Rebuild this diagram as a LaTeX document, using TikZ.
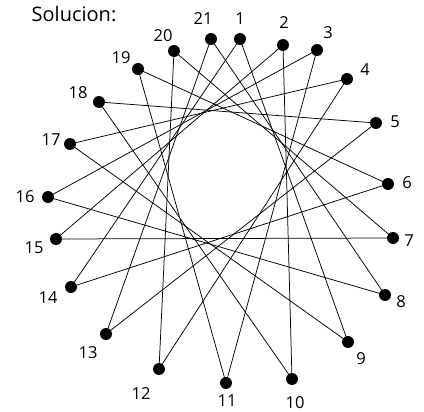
\documentclass[tikz,border=0pt]{standalone}
\usepackage{fontspec}
\setmainfont{Open Sans}
\begin{document}
\begin{tikzpicture}[x=1pt,y=-1pt,
  dot/.style={circle,fill=black,inner sep=0pt,minimum size=12pt},
  lbl/.style={inner sep=0pt,font=\fontsize{16.5}{16.5}\selectfont},
  edge/.style={line width=0.75pt}]
\useasboundingbox (0,0) rectangle (424,412);
\node[inner sep=0pt,font=\fontsize{20}{20}\selectfont] (title) at (74,14) {Solucion:};
\foreach \i/\x/\y/\lx/\ly in {
 1/240/39/240/19,
 2/283/45/284/23,
 3/317/50/328/33,
 4/347/79/365/70,
 5/376/123/395/122,
 6/388/184/407/183,
 7/393/238/409/241,
 8/385/295/401/302,
 9/348/342/361/359,
 10/292/379/295/403,
 11/226/383/227/400.5,
 12/159/369/141/394,
 13/106/334/88/353,
 14/71/287/48/298,
 15/56/239/34/248,
 16/48/197/25/197,
 17/70/144/51/140,
 18/99/102/78/93,
 19/138/69/121/58,
 20/174/51/163/36,
 21/211/39/203/19}{
  \node[dot] (p\i) at (\x,\y) {};
  \node[lbl] (l\i) at (\lx,\ly) {\i};
}
\foreach \i in {1,...,21}{
  \pgfmathtruncatemacro{\j}{mod(\i+7,21)+1}
  \draw[edge] (p\i.center) -- (p\j.center);
}
\end{tikzpicture}
\end{document}
